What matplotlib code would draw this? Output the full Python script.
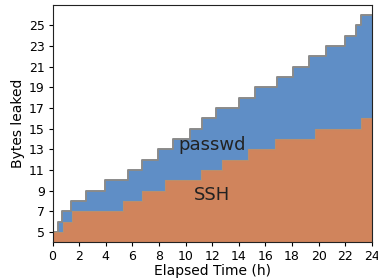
import matplotlib
matplotlib.use("Agg")
import matplotlib.pyplot as plt
import numpy as np

# passwd: step change times (h) and byte counts
passwd_t = [0, 0.4, 0.68, 1.38, 2.48, 3.94, 5.69, 6.69, 7.95, 9.03, 10.33, 11.21,
            12.29, 14.02, 15.22, 16.85, 18.1, 19.29, 20.56, 21.94, 22.8, 23.17, 24]
passwd_v = [5, 6, 7, 8, 9, 10, 11, 12, 13, 14, 15, 16,
            17, 18, 19, 20, 21, 22, 23, 24, 25, 26, 26]

# SSH: step change times (h) and byte counts
ssh_t = [0, 0.8, 1.43, 5.31, 6.72, 8.42, 11.18, 12.72, 14.72, 16.73, 19.74, 23.2, 24]
ssh_v = [5, 6, 7, 8, 9, 10, 11, 12, 13, 14, 15, 16, 16]

x_ticks = list(range(0, 25, 2))
y_ticks = list(range(5, 26, 2))

blue = "#5f8ec6"
orange = "#d0845c"

fig = plt.figure(figsize=(3.78, 2.8), dpi=100)
ax = fig.add_axes([0.139, 0.135, 0.845, 0.848])

ax.fill_between(passwd_t, 4, passwd_v, step="post", facecolor=blue,
                edgecolor="none", zorder=2)
ax.step(passwd_t, passwd_v, where="post", color="#8a8a8a", lw=1.4, zorder=3)
ax.fill_between(ssh_t, 4, ssh_v, step="post", facecolor=orange,
                edgecolor="none", zorder=4)
ax.step(ssh_t, ssh_v, where="post", color="#b8906f", lw=0.8, zorder=5)

ax.text(12.0, 13.4, "passwd", fontsize=13, ha="center", va="center",
        color="#222222", zorder=6)
ax.text(12.0, 8.6, "SSH", fontsize=13, ha="center", va="center",
        color="#222222", zorder=6)

ax.set_xlim(0, 24)
ax.set_ylim(4, 27)
ax.set_xticks(x_ticks)
ax.set_yticks(y_ticks)
ax.tick_params(labelsize=9, length=3, pad=2.5)
ax.set_xlabel("Elapsed Time (h)", fontsize=10, labelpad=1)
ax.set_ylabel("Bytes leaked", fontsize=10, labelpad=3)
for s in ax.spines.values():
    s.set_color("#222222")
    s.set_zorder(7)

fig.savefig("out.png", dpi=100)
